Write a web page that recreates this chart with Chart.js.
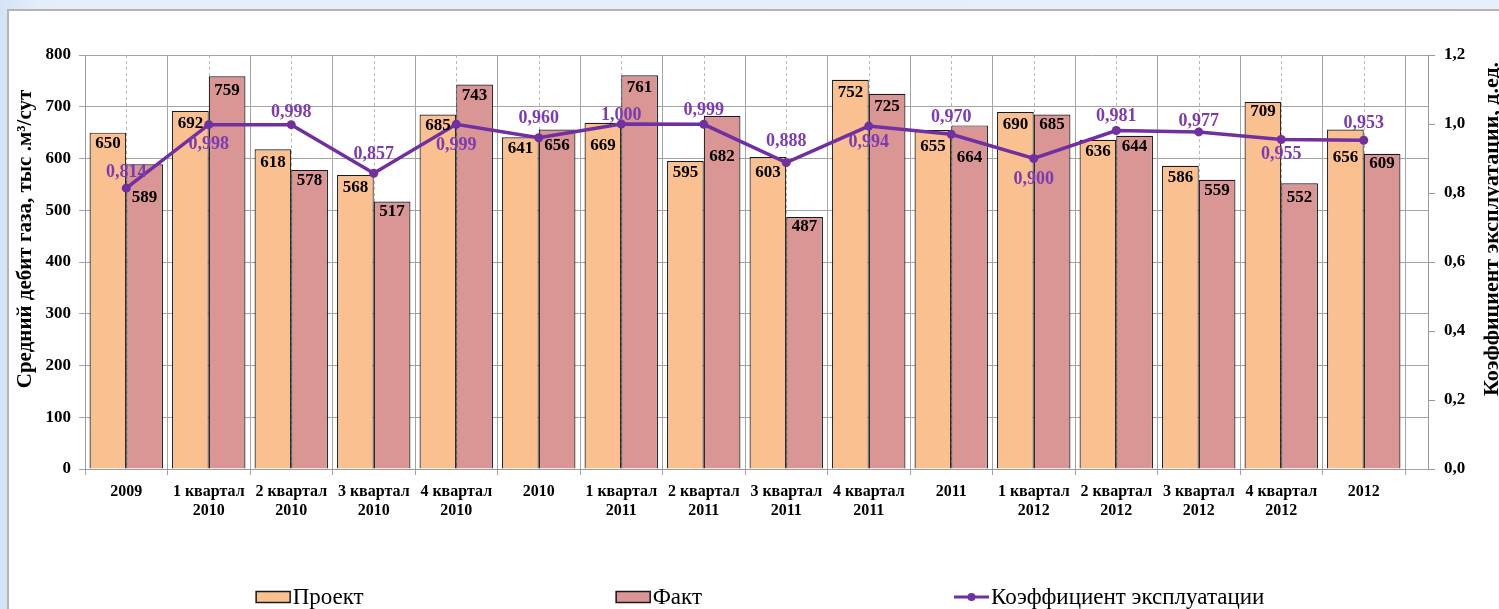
<!DOCTYPE html>
<html lang="ru">
<head>
<meta charset="utf-8">
<title>Средний дебит газа</title>
<script src="https://cdn.jsdelivr.net/npm/chart.js@4.4.1/dist/chart.umd.min.js"></script>
<style>
    html, body { margin: 0; padding: 0; }
    body {
        width: 1499px;
        height: 609px;
        overflow: hidden;
        background: linear-gradient(to right, #d3e4f7 0, #e4eefa 40px, #e6f0fb 100%);
    }
    .panel {
        position: absolute;
        left: 7px;
        top: 9px;
        width: 1492px;
        height: 600px;
        background: #fff;
        border-top: 2px solid #b4b4b4;
        border-left: 2px solid #b4b4b4;
    }
    canvas { display: block; }
</style>
</head>
<body>
<div class="panel">
    <canvas id="debitChart" width="1490" height="598"></canvas>
</div>
<script>
// Periods on the category axis ("\n" splits the label into two lines)
const periods = [
    '2009', '1 квартал\n2010', '2 квартал\n2010', '3 квартал\n2010', '4 квартал\n2010',
    '2010', '1 квартал\n2011', '2 квартал\n2011', '3 квартал\n2011', '4 квартал\n2011',
    '2011', '1 квартал\n2012', '2 квартал\n2012', '3 квартал\n2012', '4 квартал\n2012',
    '2012'
];

// Average gas flow rate, thousand m3/day
const planValues = [650, 692, 618, 568, 685, 641, 669, 595, 603, 752, 655, 690, 636, 586, 709, 656];
const factValues = [589, 759, 578, 517, 743, 656, 761, 682, 487, 725, 664, 685, 644, 559, 552, 609];

// Operating coefficient, fraction
const coefValues = [0.814, 0.998, 0.998, 0.857, 0.999, 0.960, 1.000, 0.999, 0.888, 0.994, 0.970, 0.900, 0.981, 0.977, 0.955, 0.953];

const leftTicks = { min: 0, max: 800, step: 100 };
const rightTicks = { min: 0, max: 1.2, step: 0.2 };

// vertical offsets of value labels (px from the mark)
const planLabelDy = [11, 13, 13, 13, 11, 11, 23, 12, 16, 13, 17, 13, 12, 12, 10, 28];
const factLabelDy = [33, 14, 11, 10, 11, 16, 12, 41, 10, 13, 32, 10, 11, 11, 14, 10];
const coefLabelDy = [-16, 20, -12, -19, 21, -19, -9, -14, -21, 16, -17, 21, -14, -11, 15, -17];

const SERIF = '"Liberation Serif", "Times New Roman", serif';
const PURPLE = '#7030A0';
const fmtComma = (v, d) => v.toFixed(d).replace('.', ',');

// the category axis stops a little short of the secondary axis
const CATEGORY_RIGHT_GAP = 23;

const shortCategoryAxis = {
    id: 'shortCategoryAxis',
    afterLayout(chart) {
        const x = chart.scales.x;
        x.right = chart.chartArea.right - CATEGORY_RIGHT_GAP;
        x.width = x.right - x.left;
        x.configure();
    }
};

// dashed guide lines through category centres
const centreGuides = {
    id: 'centreGuides',
    beforeDatasetsDraw(chart) {
        const { ctx, chartArea } = chart;
        const x = chart.scales.x;
        ctx.save();
        ctx.strokeStyle = '#b8b8b8';
        ctx.lineWidth = 1;
        ctx.setLineDash([3, 3]);
        periods.forEach((_, i) => {
            const px = Math.round(x.getPixelForValue(i)) + 0.5;
            ctx.beginPath();
            ctx.moveTo(px, chartArea.top);
            ctx.lineTo(px, chartArea.bottom);
            ctx.stroke();
        });
        ctx.restore();
    }
};

// value labels on bars and line points
const valueLabels = {
    id: 'valueLabels',
    afterDatasetsDraw(chart) {
        const { ctx } = chart;
        ctx.save();
        ctx.textAlign = 'center';
        ctx.textBaseline = 'middle';

        const planMeta = chart.getDatasetMeta(0);
        const factMeta = chart.getDatasetMeta(1);
        const coefMeta = chart.getDatasetMeta(2);

        ctx.font = 'bold 17px ' + SERIF;
        ctx.fillStyle = '#000';
        planMeta.data.forEach((bar, i) => {
            ctx.fillText(String(planValues[i]), bar.x, bar.y + planLabelDy[i]);
        });
        factMeta.data.forEach((bar, i) => {
            ctx.fillText(String(factValues[i]), bar.x, bar.y + factLabelDy[i]);
        });

        ctx.font = 'bold 18px ' + SERIF;
        ctx.fillStyle = '#7a3cb0';
        coefMeta.data.forEach((pt, i) => {
            ctx.fillText(fmtComma(coefValues[i], 3), pt.x, pt.y + coefLabelDy[i]);
        });
        ctx.restore();
    }
};

// axis titles: both read bottom-to-top
function drawVerticalTitle(ctx, text, font, cx, cy) {
    ctx.save();
    ctx.fillStyle = '#000';
    ctx.textAlign = 'center';
    ctx.textBaseline = 'middle';
    ctx.font = font;
    ctx.translate(cx, cy);
    ctx.rotate(-Math.PI / 2);
    ctx.fillText(text, 0, 0);
    ctx.restore();
}

const axisTitles = {
    id: 'axisTitles',
    afterDraw(chart) {
        const { ctx } = chart;
        drawVerticalTitle(ctx, 'Средний дебит газа, тыс .м³/сут', 'bold 21px ' + SERIF, 17, 228);
        drawVerticalTitle(ctx, 'Коэффициент эксплуатации, д.ед.', 'bold 22px ' + SERIF, 1483, 218);
    }
};

// legend row under the chart
const bottomLegend = {
    id: 'bottomLegend',
    afterDraw(chart) {
        const { ctx } = chart;
        const sets = chart.data.datasets;
        const symW = 35, symH = 12, textGap = 2, itemGap = 252;
        const cy = 586;
        ctx.save();
        ctx.font = '23px ' + SERIF;
        ctx.textBaseline = 'middle';
        const widths = sets.map(ds => symW + textGap + ctx.measureText(ds.label).width);
        const total = widths.reduce((a, b) => a + b, 0) + itemGap * (sets.length - 1);
        let x = 751 - total / 2;

        sets.forEach((ds, i) => {
            if (ds.type === 'line') {
                ctx.strokeStyle = ds.borderColor;
                ctx.lineWidth = 3;
                ctx.beginPath();
                ctx.moveTo(x, cy);
                ctx.lineTo(x + symW, cy);
                ctx.stroke();
                ctx.fillStyle = ds.borderColor;
                ctx.beginPath();
                ctx.arc(x + symW / 2, cy, 4, 0, Math.PI * 2);
                ctx.fill();
            } else {
                ctx.fillStyle = ds.backgroundColor;
                ctx.fillRect(x, cy - symH / 2, symW, symH);
                ctx.strokeStyle = '#1a1a1a';
                ctx.lineWidth = 1.5;
                ctx.strokeRect(x + 0.5, cy - symH / 2 + 0.5, symW - 1, symH - 1);
            }
            ctx.fillStyle = '#000';
            ctx.fillText(ds.label, x + symW + textGap, cy + 1);
            x += widths[i] + itemGap;
        });
        ctx.restore();
    }
};

const tickFont = { family: SERIF, weight: 'bold', size: 17 };

new Chart(document.getElementById('debitChart'), {
    type: 'bar',
    data: {
        labels: periods.map(p => p.split('\n')),
        datasets: [
            {
                label: 'Проект',
                data: planValues,
                backgroundColor: '#FAC090',
                borderColor: '#1a1a1a',
                borderWidth: 1.2,
                categoryPercentage: 0.89,
                barPercentage: 1.0,
                yAxisID: 'y',
                order: 1
            },
            {
                label: 'Факт',
                data: factValues,
                backgroundColor: '#D99694',
                borderColor: '#1a1a1a',
                borderWidth: 1.2,
                categoryPercentage: 0.89,
                barPercentage: 1.0,
                yAxisID: 'y',
                order: 1
            },
            {
                type: 'line',
                label: 'Коэффициент эксплуатации',
                data: coefValues,
                borderColor: PURPLE,
                backgroundColor: PURPLE,
                borderWidth: 3.5,
                pointRadius: 4.5,
                pointBackgroundColor: PURPLE,
                pointBorderWidth: 0,
                tension: 0,
                yAxisID: 'y1',
                order: 0
            }
        ]
    },
    options: {
        responsive: false,
        animation: false,
        events: [],
        layout: { padding: { top: 44, bottom: 90, left: 0, right: 0 } },
        plugins: {
            legend: { display: false },
            tooltip: { enabled: false }
        },
        scales: {
            x: {
                offset: true,
                grid: { offset: true, color: '#a4a4a4', lineWidth: 1, tickLength: 6 },
                border: { color: '#9a9a9a' },
                ticks: {
                    color: '#000',
                    font: { family: SERIF, weight: 'bold', size: 16, lineHeight: 1.2 },
                    maxRotation: 0,
                    minRotation: 0,
                    autoSkip: false,
                    padding: 7
                },
                afterFit(scale) { scale.height = 50; }
            },
            y: {
                position: 'left',
                min: leftTicks.min,
                max: leftTicks.max,
                grid: { color: '#a4a4a4', lineWidth: 1, tickLength: 6 },
                border: { color: '#9a9a9a' },
                ticks: { stepSize: leftTicks.step, color: '#000', font: tickFont, padding: 8 },
                afterFit(scale) { scale.width = 76; }
            },
            y1: {
                position: 'right',
                min: rightTicks.min,
                max: rightTicks.max,
                grid: { drawOnChartArea: false, color: '#9a9a9a', tickLength: 7 },
                border: { color: '#9a9a9a' },
                ticks: {
                    stepSize: rightTicks.step,
                    color: '#000',
                    font: tickFont,
                    padding: 9,
                    callback: v => fmtComma(v, 1)
                },
                afterFit(scale) { scale.width = 71; }
            }
        }
    },
    plugins: [shortCategoryAxis, centreGuides, valueLabels, axisTitles, bottomLegend]
});
</script>
</body>
</html>
